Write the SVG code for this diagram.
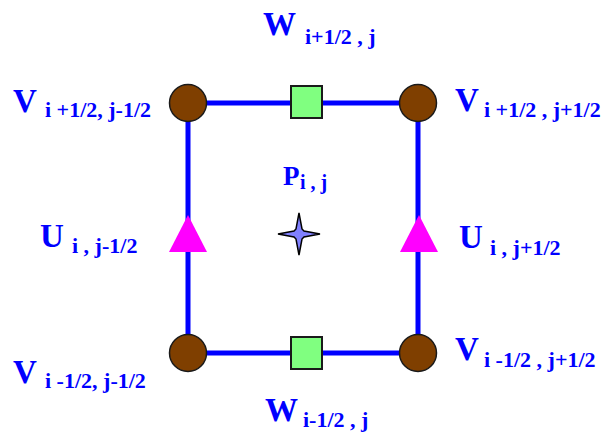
<svg xmlns="http://www.w3.org/2000/svg" width="612" height="437" viewBox="0 0 612 437">
<style>
.lbl{font-family:"Liberation Serif","Times New Roman",serif;font-weight:bold;fill:#0000ff}
.big{font-size:33px}
.sub{font-size:22px}
.edge{stroke:#0000ff;stroke-width:5;fill:none}
.v{fill:#7f3f00;stroke:#1a1a1a;stroke-width:1.5}
.w{fill:#80ff80;stroke:#1a1a1a;stroke-width:2}
.u{fill:#ff00ff}
</style>
<rect width="612" height="437" fill="#ffffff"/>
<g id="connectors">
<path class="edge" d="M188,103 H418 V353 H188 Z"/>
</g>
<g id="V_tl"><circle class="v" cx="188" cy="103" r="18.5"/><text class="lbl" x="13" y="112"><tspan class="big">V</tspan><tspan class="sub" x="45" y="117">i +1/2, j-1/2</tspan></text></g>
<g id="V_tr"><circle class="v" cx="418" cy="103" r="18.5"/><text class="lbl" x="455" y="111"><tspan class="big">V</tspan><tspan class="sub" x="484" y="117">i +1/2 , j+1/2</tspan></text></g>
<g id="V_bl"><circle class="v" cx="188" cy="353" r="18.5"/><text class="lbl" x="13" y="383"><tspan class="big">V</tspan><tspan class="sub" x="45" y="388">i -1/2, j-1/2</tspan></text></g>
<g id="V_br"><circle class="v" cx="418" cy="353" r="18.5"/><text class="lbl" x="455" y="360"><tspan class="big">V</tspan><tspan class="sub" x="484" y="367">i -1/2 , j+1/2</tspan></text></g>
<g id="W_top"><rect class="w" x="291" y="86" width="31" height="32"/><text class="lbl" x="263" y="35"><tspan class="big">W</tspan><tspan class="sub" x="305" y="44">i+1/2 , j</tspan></text></g>
<g id="W_bot"><rect class="w" x="291" y="337" width="31" height="32"/><text class="lbl" x="265" y="421"><tspan class="big">W</tspan><tspan class="sub" x="303" y="427">i-1/2 , j</tspan></text></g>
<g id="U_left"><polygon class="u" points="188,215 207,252 169,252"/><text class="lbl" x="40" y="247"><tspan class="big">U</tspan><tspan class="sub" x="72" y="253">i , j-1/2</tspan></text></g>
<g id="U_right"><polygon class="u" points="419,215 438,252 400,252"/><text class="lbl" x="459" y="248"><tspan class="big">U</tspan><tspan class="sub" x="490" y="255">i , j+1/2</tspan></text></g>
<g id="P"><path d="M299,213 L302,229 L304,231 L320,234 L304,237 L302,239 L299,255 L296,239 L294,237 L278,234 L294,231 L296,229 Z" fill="#8080ff" stroke="#000000" stroke-width="1.5"/><text class="lbl" x="283" y="185"><tspan style="font-size:27px">P</tspan><tspan style="font-size:20px" x="300" y="189">i , j</tspan></text></g>
</svg>
